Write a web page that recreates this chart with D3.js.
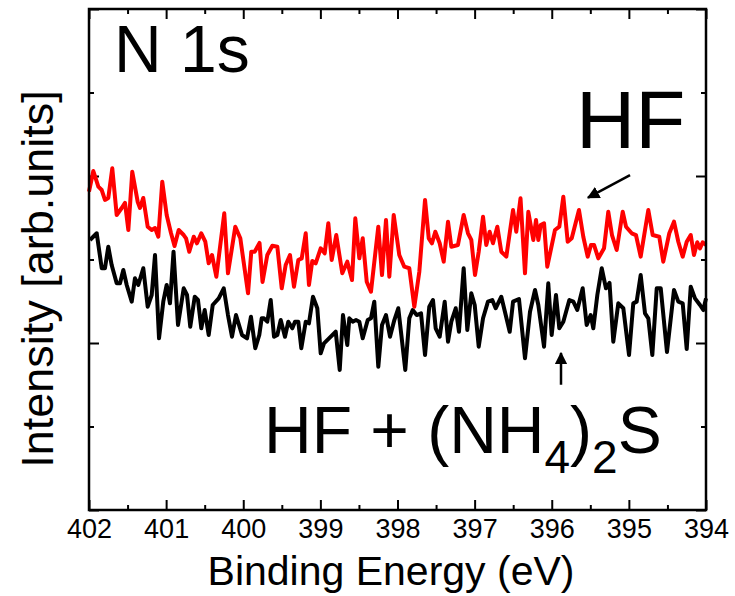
<!DOCTYPE html>
<html lang="en">
<head>
<meta charset="UTF-8">
<title>N 1s XPS</title>
<style>
    body { margin: 0; background: #ffffff; }
    svg { display: block; font-family: "Liberation Sans", Arial, sans-serif; }
    .axis line { stroke: #000; stroke-width: 2px; }
    .axis path { display: none; }
    .axis text { fill: #000; font-size: 27px; }
</style>
</head>
<body>
<script src="https://d3js.org/d3.v7.min.js"></script>
<script>
    // tick values
    var xMajor = [402, 401, 400, 399, 398, 397, 396, 395, 394];
    var xMinor = [401.5, 400.5, 399.5, 398.5, 397.5, 396.5, 395.5, 394.5];
    var yMajor = [0, 2, 4, 6];
    var yMinor = [1, 3, 5];

    // HF treated sample (red)
    var energyHF = [402.000, 401.944, 401.879, 401.835, 401.793, 401.750, 401.698, 401.641, 401.576, 401.533,
        401.490, 401.439, 401.369, 401.339, 401.296, 401.239, 401.187, 401.144, 401.101, 401.050,
        400.993, 400.937, 400.891, 400.837, 400.772, 400.742, 400.700, 400.642, 400.600, 400.544,
        400.492, 400.448, 400.405, 400.349, 400.246, 400.198, 400.103, 400.038, 399.938, 399.896,
        399.852, 399.789, 399.750, 399.688, 399.623, 399.558, 399.501, 399.450, 399.394, 399.342,
        399.286, 399.242, 399.190, 399.148, 399.105, 399.061, 398.996, 398.944, 398.897, 398.853,
        398.794, 398.716, 398.651, 398.590, 398.547, 398.495, 398.451, 398.399, 398.344, 398.249,
        398.201, 398.149, 398.106, 398.049, 397.977, 397.912, 397.847, 397.782, 397.717, 397.643,
        397.595, 397.553, 397.510, 397.453, 397.401, 397.345, 397.302, 397.216, 397.142, 397.086,
        397.043, 396.995, 396.947, 396.891, 396.849, 396.805, 396.762, 396.706, 396.654, 396.589,
        396.502, 396.460, 396.405, 396.347, 396.304, 396.239, 396.204, 396.174, 396.143, 396.100,
        396.058, 395.958, 395.902, 395.850, 395.793, 395.741, 395.647, 395.591, 395.534, 395.491,
        395.452, 395.396, 395.322, 395.267, 395.219, 395.158, 395.080, 395.037, 394.963, 394.908,
        394.847, 394.748, 394.691, 394.606, 394.554, 394.476, 394.415, 394.359, 394.302, 394.250,
        394.198, 394.156, 394.113, 394.078, 394.043, 394.000];
    var intensityHF = [3.812, 4.060, 3.872, 3.832, 3.713, 3.737, 4.092, 3.533, 3.617, 3.677,
        3.353, 4.051, 3.692, 3.617, 3.737, 3.393, 3.353, 3.377, 3.273, 3.932,
        3.533, 3.317, 3.162, 3.353, 3.293, 3.254, 3.093, 3.273, 3.194, 3.314,
        3.213, 2.954, 3.054, 2.794, 3.553, 2.835, 3.393, 3.254, 2.595, 3.093,
        3.093, 3.198, 2.731, 3.054, 3.165, 3.153, 2.655, 2.934, 3.054, 2.674,
        2.994, 3.014, 3.314, 2.695, 2.982, 2.954, 3.134, 3.074, 3.434, 2.994,
        3.293, 2.835, 2.974, 2.754, 3.493, 3.014, 3.254, 2.734, 2.614, 3.393,
        2.814, 3.473, 2.794, 3.533, 3.054, 2.914, 2.895, 2.435, 2.854, 3.713,
        3.254, 3.194, 3.333, 3.194, 2.974, 3.453, 3.153, 3.174, 3.533, 3.314,
        3.234, 2.814, 3.093, 3.513, 3.174, 3.333, 3.194, 3.393, 3.093, 3.034,
        3.593, 3.333, 3.733, 2.835, 3.572, 3.234, 3.473, 3.234, 3.413, 3.434,
        2.914, 3.353, 3.393, 3.752, 3.213, 3.254, 3.593, 3.273, 3.034, 3.174,
        3.174, 3.014, 3.134, 3.572, 3.293, 3.114, 3.572, 3.393, 3.314, 3.293,
        3.034, 3.593, 3.293, 3.273, 2.974, 3.314, 3.453, 3.213, 3.034, 3.213,
        3.293, 3.054, 3.206, 3.134, 3.206, 3.174];

    // HF + (NH4)2S treated sample (black)
    var energyS = [401.987, 401.900, 401.835, 401.793, 401.750, 401.706, 401.641, 401.598, 401.555, 401.511,
        401.446, 401.404, 401.361, 401.296, 401.239, 401.187, 401.144, 401.092, 401.037, 400.993,
        400.950, 400.904, 400.846, 400.772, 400.729, 400.687, 400.629, 400.587, 400.544, 400.500,
        400.448, 400.396, 400.318, 400.253, 400.198, 400.146, 400.094, 400.016, 399.951, 399.900,
        399.844, 399.792, 399.761, 399.731, 399.688, 399.644, 399.601, 399.558, 399.514, 399.459,
        399.416, 399.364, 399.329, 399.286, 399.247, 399.190, 399.148, 399.096, 399.040, 398.996,
        398.953, 398.888, 398.801, 398.749, 398.707, 398.651, 398.625, 398.581, 398.538, 398.495,
        398.451, 398.386, 398.344, 398.301, 398.249, 398.201, 398.149, 398.097, 398.041, 397.990,
        397.955, 397.899, 397.847, 397.803, 397.751, 397.695, 397.643, 397.588, 397.540, 397.505,
        397.453, 397.388, 397.345, 397.302, 397.245, 397.203, 397.142, 397.095, 397.043, 396.999,
        396.947, 396.891, 396.827, 396.771, 396.727, 396.654, 396.597, 396.545, 396.502, 396.425,
        396.347, 396.282, 396.217, 396.174, 396.100, 396.045, 396.001, 395.945, 395.902, 395.850,
        395.772, 395.720, 395.669, 395.599, 395.547, 395.495, 395.461, 395.409, 395.352, 395.297,
        395.251, 395.202, 395.137, 395.072, 394.998, 394.943, 394.899, 394.847, 394.791, 394.748,
        394.696, 394.639, 394.587, 394.506, 394.415, 394.359, 394.302, 394.250, 394.198, 394.143,
        394.078, 394.035, 394.000];
    var intensityS = [3.234, 3.314, 2.895, 2.895, 3.153, 2.934, 2.715, 2.715, 2.874, 2.695,
        2.495, 2.775, 2.695, 2.895, 2.435, 2.575, 3.054, 2.056, 2.495, 2.695,
        2.475, 3.093, 2.216, 2.655, 2.575, 2.195, 2.554, 2.515, 2.176, 2.395,
        2.096, 2.455, 2.535, 2.655, 2.335, 2.075, 2.335, 2.096, 2.056, 2.315,
        1.937, 2.096, 2.296, 2.296, 2.255, 2.515, 2.075, 2.096, 2.275, 2.075,
        2.255, 2.176, 2.255, 2.255, 1.937, 2.255, 2.236, 2.554, 2.416, 1.877,
        1.996, 2.056, 2.135, 1.677, 2.335, 1.976, 2.296, 2.255, 2.275, 2.255,
        2.056, 2.275, 2.296, 2.495, 1.716, 2.216, 2.335, 2.075, 2.275, 2.416,
        2.135, 1.677, 2.296, 2.395, 2.335, 2.356, 1.856, 2.435, 2.515, 2.176,
        2.075, 2.495, 2.016, 2.255, 2.416, 2.135, 2.895, 2.156, 2.595, 2.455,
        1.956, 2.296, 2.495, 2.515, 2.416, 2.554, 2.335, 2.135, 2.495, 2.527,
        1.817, 2.375, 2.635, 2.455, 1.956, 2.715, 2.096, 2.575, 2.176, 2.255,
        2.515, 2.495, 2.395, 2.655, 2.216, 2.335, 2.176, 2.575, 2.895, 2.655,
        2.719, 2.016, 2.475, 2.416, 1.856, 2.475, 2.495, 2.814, 2.356, 2.296,
        1.856, 2.655, 2.655, 1.892, 2.635, 2.495, 2.475, 1.928, 2.674, 2.535,
        2.455, 2.395, 2.535];

    var margin = {top: 9, right: 29, bottom: 86, left: 89},
        width = 735 - margin.left - margin.right,
        height = 596 - margin.top - margin.bottom;

    var svg = d3.select("body").append("svg")
        .attr("width", 735)
        .attr("height", 596);

    var g = svg.append("g")
        .attr("transform", "translate(" + margin.left + "," + margin.top + ")");

    var x = d3.scaleLinear().domain([402, 394]).range([0, width]);
    var y = d3.scaleLinear().domain([0, 6]).range([height, 0]);

    // bottom axis with labels, ticks pointing inward
    g.append("g")
        .attr("class", "axis")
        .attr("transform", "translate(0," + height + ")")
        .call(d3.axisBottom(x).tickValues(xMajor).tickSize(-10).tickPadding(9).tickFormat(d3.format("d")));
    g.append("g")
        .attr("class", "axis")
        .attr("transform", "translate(0," + height + ")")
        .call(d3.axisBottom(x).tickValues(xMinor).tickSize(-5).tickFormat(""));
    // top axis
    g.append("g")
        .attr("class", "axis")
        .call(d3.axisTop(x).tickValues(xMajor).tickSize(-10).tickFormat(""));
    g.append("g")
        .attr("class", "axis")
        .call(d3.axisTop(x).tickValues(xMinor).tickSize(-5).tickFormat(""));
    // left / right axes, no labels
    g.append("g")
        .attr("class", "axis")
        .call(d3.axisLeft(y).tickValues(yMajor).tickSize(-10).tickFormat(""));
    g.append("g")
        .attr("class", "axis")
        .call(d3.axisLeft(y).tickValues(yMinor).tickSize(-5).tickFormat(""));
    g.append("g")
        .attr("class", "axis")
        .attr("transform", "translate(" + width + ",0)")
        .call(d3.axisRight(y).tickValues(yMajor).tickSize(-10).tickFormat(""));
    g.append("g")
        .attr("class", "axis")
        .attr("transform", "translate(" + width + ",0)")
        .call(d3.axisRight(y).tickValues(yMinor).tickSize(-5).tickFormat(""));

    var line = d3.line()
        .x(function(d) { return x(d[0]); })
        .y(function(d) { return y(d[1]); });

    var blackData = d3.zip(energyS, intensityS);
    var redData = d3.zip(energyHF, intensityHF);

    g.append("path")
        .datum(blackData)
        .attr("fill", "none")
        .attr("stroke", "#000000")
        .attr("stroke-width", 4)
        .attr("stroke-linejoin", "round")
        .attr("d", line);

    g.append("path")
        .datum(redData)
        .attr("fill", "none")
        .attr("stroke", "#ff0000")
        .attr("stroke-width", 4)
        .attr("stroke-linejoin", "round")
        .attr("d", line);

    // frame
    g.append("rect")
        .attr("width", width)
        .attr("height", height)
        .attr("fill", "none")
        .attr("stroke", "#000")
        .attr("stroke-width", 2.5);

    // arrows
    svg.append("defs").append("marker")
        .attr("id", "head")
        .attr("viewBox", "0 0 10 10")
        .attr("refX", 9).attr("refY", 5)
        .attr("markerWidth", 5).attr("markerHeight", 5)
        .attr("markerUnits", "strokeWidth")
        .attr("orient", "auto")
        .append("path")
        .attr("d", "M0,0 L10,5 L0,10 Z")
        .attr("fill", "#000");

    // HF arrow
    g.append("line")
        .attr("x1", x(394.985)).attr("y1", y(4.01))
        .attr("x2", x(395.53)).attr("y2", y(3.74))
        .attr("stroke", "#000").attr("stroke-width", 2.5)
        .attr("marker-end", "url(#head)");

    // HF + (NH4)2S arrow
    g.append("line")
        .attr("x1", x(395.88)).attr("y1", y(1.5))
        .attr("x2", x(395.88)).attr("y2", y(1.88))
        .attr("stroke", "#000").attr("stroke-width", 2.5)
        .attr("marker-end", "url(#head)");

    // labels
    svg.append("text")
        .attr("x", 114).attr("y", 72)
        .attr("font-size", 66)
        .text("N 1s");

    svg.append("text")
        .attr("x", 576).attr("y", 148)
        .attr("font-size", 82)
        .text("HF");

    var sLabel = svg.append("text")
        .attr("x", 264).attr("y", 453)
        .attr("font-size", 66);
    sLabel.append("tspan").text("HF + (NH");
    sLabel.append("tspan").attr("font-size", 46).attr("dy", 20).text("4");
    sLabel.append("tspan").attr("dy", -20).text(")");
    sLabel.append("tspan").attr("font-size", 46).attr("dy", 20).text("2");
    sLabel.append("tspan").attr("dy", -20).text("S");

    svg.append("text")
        .attr("text-anchor", "middle")
        .attr("x", 391).attr("y", 585)
        .attr("font-size", 41)
        .text("Binding Energy (eV)");

    svg.append("text")
        .attr("text-anchor", "middle")
        .attr("transform", "translate(53,279) rotate(-90)")
        .attr("font-size", 45)
        .text("Intensity [arb.units]");
</script>
</body>
</html>
